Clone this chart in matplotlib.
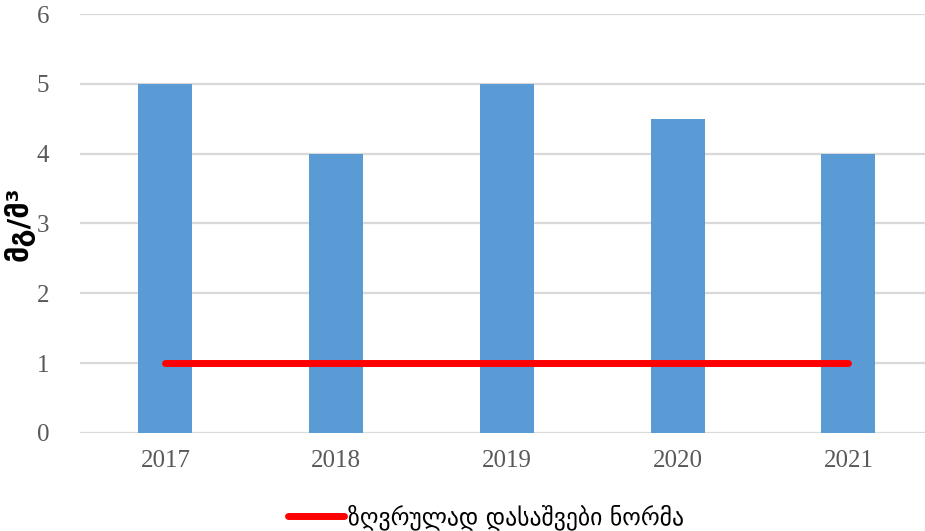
import numpy as np
import matplotlib.pyplot as plt

years = ['2017', '2018', '2019', '2020', '2021']
values = [5, 4, 5, 4.5, 4]
norm = [1, 1, 1, 1, 1]

fig = plt.figure(figsize=(9.25, 5.31), dpi=100)
ax = fig.add_axes([0.0865, 0.1846, 0.923, 0.789])

x = np.arange(len(years))
ax.bar(x, values, 0.316, color='#5b9bd5', zorder=2)
line, = ax.plot(x, norm, color='#ff0000', lw=5, solid_capstyle='round', zorder=3,
                label='ზღვრულად დასაშვები ნორმა')

ax.set_xlim(-0.5, len(years) - 0.5)
ax.set_ylim(0, 6)
ax.set_yticks(range(0, 7))
ax.set_xticks(x)
ax.set_xticklabels(years)
ax.yaxis.grid(True, color='#d9d9d9', lw=1.6, zorder=0)
ax.set_axisbelow(True)
for s in ax.spines.values():
    s.set_visible(False)
ax.tick_params(length=0, labelsize=18, labelcolor='#595959')
for lbl in ax.get_xticklabels() + ax.get_yticklabels():
    lbl.set_family('Liberation Serif')
ax.tick_params(axis='x', pad=12)
ax.tick_params(axis='y', pad=22)

ax.set_ylabel('მგ/მ³', fontsize=21, fontweight='bold', family='DejaVu Sans', labelpad=2)

fig.legend(handles=[line], loc='center', bbox_to_anchor=(0.525, 0.027), frameon=False,
           fontsize=17, handlelength=2.4, handletextpad=0.15)

plt.savefig('out.png', dpi=100)
